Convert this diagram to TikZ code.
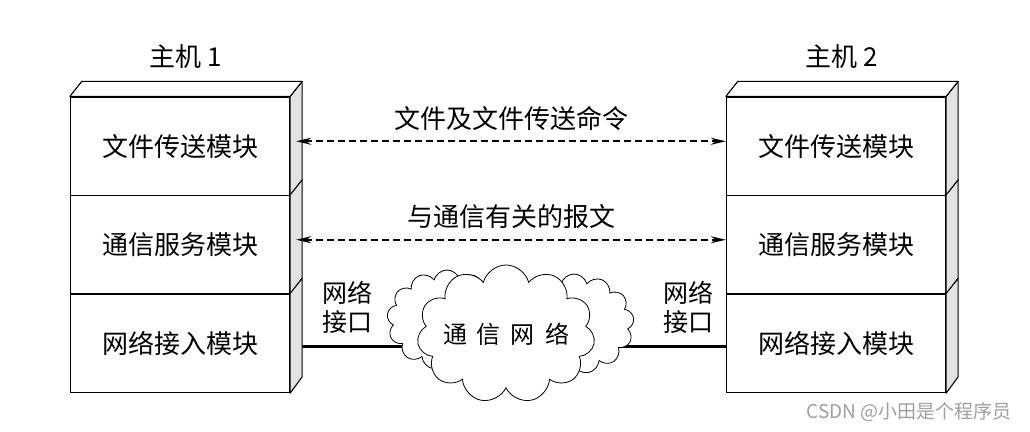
\documentclass[tikz,border=0pt]{standalone}
\usepackage{fontspec}
\setmainfont{Noto Sans CJK SC}
\usetikzlibrary{shapes.symbols,arrows.meta}

\tikzset{
  layer/.style={draw,line width=1.3pt,minimum width=219pt,minimum height=98.5pt,inner sep=0pt,font=\fontsize{26}{30}\selectfont},
  side/.style={draw,line width=1.1pt,fill=gray!22,line join=round},
  msg/.style={dash pattern=on 7pt off 4pt,line width=2pt,{Stealth[length=15pt,width=7pt]}-{Stealth[length=15pt,width=7pt]}},
  net/.style={line width=3.5pt},
  puff/.style={cloud,cloud puffs=13,cloud ignores aspect,draw,fill=white,line width=0.8pt,inner sep=0pt},
  lbl/.style={font=\fontsize{26}{30}\selectfont}
}

\begin{document}
\begin{tikzpicture}[x=1pt,y=-1pt]
    \useasboundingbox (0,0) rectangle (1030,431);
    \node[lbl] (h1) at (186,57) {主机 1};
    \node[lbl] (h2) at (842,57) {主机 2};
    % the two stacks
    \foreach \n/\txt/\y in {1/文件传送模块/146.25,2/通信服务模块/244.75,3/网络接入模块/343.25}{
      \node[layer] (l\n) at (180,\y) {\txt};
      \node[layer] (r\n) at (836,\y) {\txt};
      \draw[side] (l\n.north east) -- ++(12,-15) -- ++(0,98.5) -- (l\n.south east) -- cycle;
      \draw[side] (r\n.north east) -- ++(12,-15) -- ++(0,98.5) -- (r\n.south east) -- cycle;
    }
    \draw[side,fill=white] (l1.north west) -- ++(12,-15) -- ([shift={(12,-15)}]l1.north east) -- (l1.north east) -- cycle;
    \draw[side,fill=white] (r1.north west) -- ++(12,-15) -- ([shift={(12,-15)}]r1.north east) -- (r1.north east) -- cycle;
    % peer messages
    \draw[msg] ([shift={(6,-5)}]l1.east) -- ([yshift=5pt]r1.west)
      node[lbl,midway,yshift=23pt] (m1) {文件及文件传送命令};
    \draw[msg] ([shift={(6,-5)}]l2.east) -- ([yshift=5pt]r2.west)
      node[lbl,midway,yshift=23pt] (m2) {与通信有关的报文};
    % network
    \draw[net] ([shift={(12,3)}]l3.east) -- ([yshift=-3pt]r3.west);
    \node[puff,minimum width=120pt,minimum height=100pt] (c1) at (447,320) {};
    \node[puff,minimum width=120pt,minimum height=100pt] (c2) at (574,324) {};
    \node[puff,cloud puffs=11,minimum width=176pt,minimum height=138pt,font=\fontsize{24}{28}\selectfont] (net) at (506,334)
      {通\hspace{10pt}信\hspace{10pt}网\hspace{10pt}络};
    \node[align=center,font=\fontsize{25}{29}\selectfont] (if1) at (347,307) {网络\\接口};
    \node[align=center,font=\fontsize{25}{29}\selectfont] (if2) at (688,307) {网络\\接口};
    \node[font=\fontsize{19}{21}\selectfont,text=gray!75] (wm) at (909,412) {CSDN @小田是个程序员};
\end{tikzpicture}
\end{document}
